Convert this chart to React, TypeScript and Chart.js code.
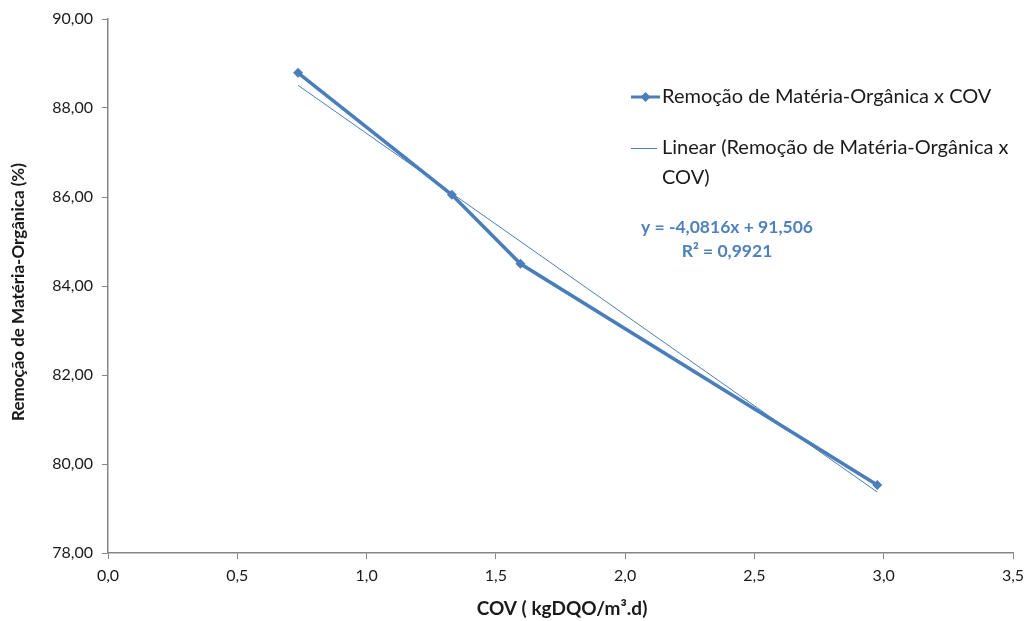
import React, { useEffect, useRef } from "react";
import { Chart, registerables } from "chart.js";

Chart.register(...registerables);

const covValues = [0.735, 1.33, 1.595, 2.975];
const remocaoValues = [88.79, 86.05, 84.5, 79.53];
const trendX = [0.735, 2.975];
const trendY = [88.51, 79.37];
const seriesName = "Remoção de Matéria-Orgânica x COV";
const trendNameLines = ["Linear (Remoção de Matéria-Orgânica x", "COV)"];
const equationLines = ["y = -4,0816x + 91,506", "R² = 0,9921"];
const xTitle = "COV ( kgDQO/m³.d)";
const yTitle = "Remoção de Matéria-Orgânica (%)";

const BLUE = "#4a7ebb";
const FONT = "Lato, 'Open Sans', sans-serif";

export default function App() {
  const ref = useRef<HTMLCanvasElement | null>(null);
  useEffect(() => {
    document.body.style.margin = "0";
    const canvas = ref.current!;
    const overlay = {
      id: "overlay",
      afterDraw(chart: any) {
        const ctx = chart.ctx;
        ctx.save();
        // axis titles
        ctx.fillStyle = "#1a1a1a";
        ctx.textAlign = "center";
        ctx.textBaseline = "middle";
        ctx.font = `bold 19px ${FONT}`;
        ctx.fillText(xTitle, 562, 609);
        ctx.save();
        ctx.translate(19, 292);
        ctx.rotate(-Math.PI / 2);
        ctx.font = `bold 17px ${FONT}`;
        ctx.fillText(yTitle, 0, 0);
        ctx.restore();
        // legend
        ctx.strokeStyle = BLUE;
        ctx.lineWidth = 3;
        ctx.beginPath();
        ctx.moveTo(631, 97);
        ctx.lineTo(660, 97);
        ctx.stroke();
        ctx.fillStyle = BLUE;
        ctx.beginPath();
        ctx.moveTo(645.5, 92);
        ctx.lineTo(650.5, 97);
        ctx.lineTo(645.5, 102);
        ctx.lineTo(640.5, 97);
        ctx.closePath();
        ctx.fill();
        ctx.lineWidth = 1;
        ctx.beginPath();
        ctx.moveTo(631, 148.5);
        ctx.lineTo(657, 148.5);
        ctx.stroke();
        ctx.fillStyle = "#1a1a1a";
        ctx.font = `20px ${FONT}`;
        ctx.textAlign = "left";
        ctx.fillText(seriesName, 662, 97);
        ctx.fillText(trendNameLines[0], 662, 148);
        ctx.fillText(trendNameLines[1], 662, 178);
        // equation
        ctx.fillStyle = "#4f81bd";
        ctx.font = `bold 17.5px ${FONT}`;
        ctx.textAlign = "center";
        ctx.fillText(equationLines[0], 727, 227);
        ctx.fillText(equationLines[1], 727, 251);
        ctx.restore();
      },
    };
    const chart = new Chart(canvas, {
      type: "scatter",
      data: {
        datasets: [
          {
            label: "Linear",
            data: trendX.map((x, i) => ({ x, y: trendY[i] })),
            showLine: true,
            borderColor: BLUE,
            borderWidth: 1,
            pointRadius: 0,
            order: 2,
          },
          {
            label: seriesName,
            data: covValues.map((x, i) => ({ x, y: remocaoValues[i] })),
            showLine: true,
            borderColor: BLUE,
            backgroundColor: BLUE,
            borderWidth: 3.5,
            pointStyle: "rectRot",
            pointRadius: 5,
            pointBorderWidth: 0,
            order: 1,
          },
        ],
      },
      options: {
        responsive: false,
        animation: false,
        layout: { padding: { top: 19, right: 14, left: 0, bottom: 0 } },
        plugins: { legend: { display: false }, tooltip: { enabled: false } },
        scales: {
          x: {
            type: "linear",
            min: 0,
            max: 3.5,
            afterFit: (s: any) => {
              s.height = 68;
              s.paddingLeft = 0;
              s.paddingRight = 0;
            },
            ticks: {
              stepSize: 0.5,
              color: "#1a1a1a",
              font: { family: FONT, size: 16 },
              padding: 7,
              callback: (v: any) => Number(v).toFixed(1).replace(".", ","),
            },
            grid: {
              drawOnChartArea: false,
              drawTicks: true,
              tickLength: 6,
              color: "#868686",
            },
            border: { color: "#868686", width: 1.5 },
          },
          y: {
            type: "linear",
            min: 78,
            max: 90,
            afterFit: (s: any) => {
              s.width = 108;
              s.paddingTop = 0;
              s.paddingBottom = 0;
            },
            ticks: {
              stepSize: 2,
              color: "#1a1a1a",
              font: { family: FONT, size: 16 },
              padding: 9,
              callback: (v: any) => Number(v).toFixed(2).replace(".", ","),
            },
            grid: {
              drawOnChartArea: false,
              drawTicks: true,
              tickLength: 6,
              color: "#868686",
            },
            border: { color: "#868686", width: 1.5 },
          },
        },
      },
      plugins: [overlay],
    });
    return () => chart.destroy();
  }, []);
  return <canvas ref={ref} width={1027} height={621} style={{ display: "block" }} />;
}
